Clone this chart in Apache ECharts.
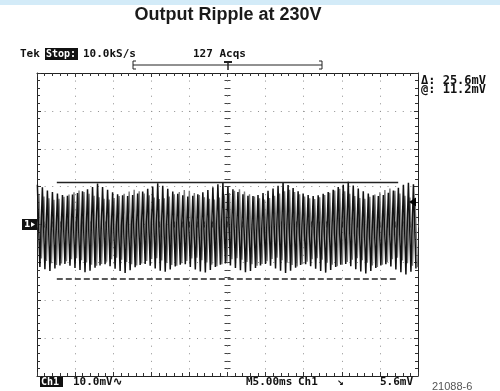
<!DOCTYPE html>
<html><head><meta charset="utf-8">
<script src="https://cdn.jsdelivr.net/npm/echarts@6/dist/echarts.min.js"></script>
<style>html,body{margin:0;padding:0;background:#fff}#c{width:500px;height:391px}</style>
</head><body><div id="c"></div>
<script>
// ---- Data read from the scope capture (mV, 5 ms/div, 10 mV/div) ----
const timeRangeMs = [0, 50];
const voltRangeMv = [-40, 40];
const cyclePeriodMs = 0.658;      // ripple period read from stripe spacing
const blackStartMs = 0.05;
const grayStartMs = 0.25;
const blackPeaks = [10.5,9.8,9.0,8.6,8.2,7.8,7.6,7.9,8.3,8.8,9.3,9.9,10.8,
  9.9,9.2,8.5,8.0,7.7,7.5,7.8,8.2,8.7,9.4,10.0,10.9,10.2,
  9.4,8.7,8.1,7.7,7.4,7.6,8.0,8.5,9.1,9.8,10.6,11.0,10.0,
  9.3,8.6,8.0,7.6,7.5,7.8,8.3,8.9,9.5,10.2,11.2,10.4,9.6,
  8.8,8.2,7.8,7.5,7.7,8.1,8.6,9.2,9.9,10.5,11.3,10.3,9.5,
  8.8,8.2,7.7,7.5,7.8,8.4,9.0,9.7,10.5,11.0,10.6];
const blackTroughs = [-11.2,-11.8,-12.3,-11.6,-10.8,-10.4,-10.9,-11.5,-12.0,-12.6,-12.2,-11.4,-10.8,
  -10.5,-11.0,-11.7,-12.3,-12.8,-12.1,-11.3,-10.7,-10.4,-10.9,-11.6,-12.2,-12.5,
  -11.9,-11.1,-10.6,-10.5,-11.2,-11.9,-12.4,-12.7,-12.0,-11.2,-10.6,-10.3,-10.8,
  -11.5,-12.1,-12.6,-12.3,-11.5,-10.8,-10.4,-10.9,-11.6,-12.2,-12.8,-12.2,-11.4,
  -10.7,-10.5,-11.0,-11.7,-12.3,-12.7,-12.0,-11.2,-10.6,-10.4,-11.0,-11.8,-12.4,
  -12.9,-12.3,-11.5,-10.8,-10.5,-11.1,-11.9,-12.6,-13.2,-12.5,-11.6];
const grayPeaks = [8.0,7.4,6.9,6.5,6.8,7.3,7.9,8.5,9.0,8.6,8.1,7.6,7.2,
  6.8,6.6,7.0,7.5,8.1,8.7,9.2,8.8,8.2,7.7,7.1,6.7,6.9,
  7.4,8.0,8.6,9.1,8.9,8.3,7.8,7.2,6.8,6.6,7.1,7.7,8.3,
  8.9,9.3,8.7,8.0,7.4,6.9,6.6,7.0,7.6,8.2,8.8,9.2,8.6,
  8.0,7.4,6.9,6.7,7.2,7.8,8.4,9.0,9.4,8.8,8.1,7.5,7.0,
  6.8,7.3,7.9,8.5,9.1,9.5,8.9,8.2,7.6,7.1,6.9];
const grayTroughs = [-9.0,-9.6,-10.2,-10.7,-10.3,-9.7,-9.2,-8.9,-9.4,-10.0,-10.6,-10.9,-10.4,
  -9.8,-9.2,-8.8,-9.3,-9.9,-10.5,-10.8,-10.3,-9.6,-9.1,-8.9,-9.5,-10.1,
  -10.7,-10.9,-10.2,-9.6,-9.0,-8.8,-9.4,-10.0,-10.6,-11.0,-10.5,-9.8,-9.2,
  -8.9,-9.3,-9.9,-10.5,-10.9,-10.4,-9.7,-9.1,-8.8,-9.4,-10.1,-10.7,-11.1,
  -10.5,-9.8,-9.2,-8.9,-9.3,-10.0,-10.6,-11.0,-10.6,-9.9,-9.3,-8.9,-9.4,
  -10.1,-10.8,-11.2,-10.6,-9.9,-9.2,-8.8,-9.5,-10.2,-10.9,-11.3];
const cursorTopMv = 11.2;
const cursorDeltaMv = 25.6;
const cursorSpanMs = [2.6, 47.4];
const triggerLevelMv = 5.6;

function buildTrace(peaks, troughs, startMs) {
  const out = [];
  for (let i = 0; i < peaks.length; i++) {
    out.push([startMs + i * cyclePeriodMs, peaks[i]]);
    out.push([startMs + (i + 0.5) * cyclePeriodMs, troughs[i]]);
  }
  return out;
}

const GL = 37, GT = 73, GW = 381, GH = 303;
const chart = echarts.init(document.getElementById('c'), null, {renderer: 'canvas'});

function ax(extra) {
  return Object.assign({
    gridIndex: 0,
    axisLine: {show: true, onZero: false, lineStyle: {color: '#222', width: 1}},
    axisTick: {show: true, inside: true, length: 4, lineStyle: {color: '#333'}},
    minorTick: {show: true, splitNumber: 5, length: 3, lineStyle: {color: '#333'}},
    axisLabel: {show: false},
    splitLine: {show: false},
    minorSplitLine: {show: false}
  }, extra);
}
const xBase = {type: 'value', min: timeRangeMs[0], max: timeRangeMs[1], interval: 5};
const yBase = {type: 'value', min: voltRangeMv[0], max: voltRangeMv[1], interval: 10};
const centerTick = {show: true, inside: true, length: 3, lineStyle: {color: '#444'}};
const centerTickOut = {show: true, inside: false, length: 3, lineStyle: {color: '#444'}};
const centerMinor = {show: true, splitNumber: 5, length: 3, lineStyle: {color: '#444'}};

const txt = (x, y, s, o) => ({type: 'text', x, y, z: 100, style: Object.assign({text: s, fill: '#111',
  font: 'bold 11px "DejaVu Sans Mono"', verticalAlign: 'middle'}, o || {})});

const option = {
  animation: false,
  backgroundColor: '#fff',
  grid: {left: GL, top: GT, width: GW, height: GH, show: false},
  xAxis: [
    ax(Object.assign({}, xBase, {position: 'bottom',
      splitLine: {show: true, lineStyle: {color: '#8f8f8f', width: 1, type: [1, 6.575]}}})),
    ax(Object.assign({}, xBase, {position: 'top'})),
    ax(Object.assign({}, xBase, {position: 'bottom', offset: -GH / 2, axisLine: {show: false, onZero: false}, axisTick: centerTick, minorTick: centerMinor})),
    ax(Object.assign({}, xBase, {position: 'bottom', offset: -GH / 2, axisLine: {show: false, onZero: false}, axisTick: centerTickOut, minorTick: centerMinor}))
  ],
  yAxis: [
    ax(Object.assign({}, yBase, {position: 'left',
      splitLine: {show: true, lineStyle: {color: '#8f8f8f', width: 1, type: [1, 6.62]}}})),
    ax(Object.assign({}, yBase, {position: 'right'})),
    ax(Object.assign({}, yBase, {position: 'left', offset: -GW / 2, axisLine: {show: false, onZero: false}, axisTick: centerTick, minorTick: centerMinor})),
    ax(Object.assign({}, yBase, {position: 'left', offset: -GW / 2, axisLine: {show: false, onZero: false}, axisTick: centerTickOut, minorTick: centerMinor}))
  ],
  series: [
    {type: 'line', name: 'acq2', xAxisIndex: 0, yAxisIndex: 0, showSymbol: false, symbol: 'none',
      data: buildTrace(grayPeaks, grayTroughs, grayStartMs), clip: true,
      lineStyle: {color: '#7a7a7a', width: 1.4}, z: 3},
    {type: 'line', name: 'Ch1', xAxisIndex: 0, yAxisIndex: 0, showSymbol: false, symbol: 'none',
      data: buildTrace(blackPeaks, blackTroughs, blackStartMs), clip: true,
      lineStyle: {color: '#111', width: 1.5}, z: 4,
      markLine: {silent: true, symbol: 'none', label: {show: false},
        data: [
          [{coord: [cursorSpanMs[0], cursorTopMv], lineStyle: {type: 'solid', color: '#222', width: 1.3}},
           {coord: [cursorSpanMs[1], cursorTopMv]}],
          [{coord: [cursorSpanMs[0], cursorTopMv - cursorDeltaMv], lineStyle: {type: [6, 3], color: '#222', width: 1.5}},
           {coord: [cursorSpanMs[1], cursorTopMv - cursorDeltaMv]}]
        ]}}
  ],
  graphic: [
    {type: 'rect', shape: {x: 0, y: 0, width: 500, height: 5}, style: {fill: '#d3ebf8'}},
    {type: 'text', x: 228, y: 15, style: {text: 'Output Ripple at 230V', fill: '#1a1a1a',
      font: 'bold 18px "Liberation Sans", Arial', align: 'center', verticalAlign: 'middle'}},
    txt(20, 54, 'Tek'),
    {type: 'rect', shape: {x: 45, y: 48, width: 33, height: 12}, style: {fill: '#111'}},
    txt(46, 54, 'Stop:', {fill: '#fff', font: 'bold 10px "DejaVu Sans Mono"'}),
    txt(83, 54, '10.0kS/s'),
    txt(193, 54, '127 Acqs'),
    {type: 'polyline', shape: {points: [[136, 61], [133, 61], [133, 69], [136, 69]]}, style: {stroke: '#222', lineWidth: 1, fill: null}},
    {type: 'line', shape: {x1: 133, y1: 65, x2: 322, y2: 65}, style: {stroke: '#222', lineWidth: 1}},
    {type: 'polyline', shape: {points: [[319, 61], [322, 61], [322, 69], [319, 69]]}, style: {stroke: '#222', lineWidth: 1, fill: null}},
    {type: 'line', shape: {x1: 224, y1: 62, x2: 232, y2: 62}, style: {stroke: '#222', lineWidth: 2}},
    {type: 'line', shape: {x1: 228, y1: 62, x2: 228, y2: 70}, style: {stroke: '#222', lineWidth: 1.5}},
    txt(421, 81, 'Δ: 25.6mV', {font: 'bold 12px "DejaVu Sans Mono"'}),
    txt(421, 90, '@: 11.2mV', {font: 'bold 12px "DejaVu Sans Mono"'}),
    {type: 'rect', z: 100, shape: {x: 22, y: 219, width: 15, height: 11}, style: {fill: '#111'}},
    txt(24, 224.5, '1', {fill: '#fff', font: 'bold 9px "DejaVu Sans"'}),
    {type: 'polygon', z: 101, shape: {points: [[31, 222], [35, 224.5], [31, 227]]}, style: {fill: '#fff'}},
    {type: 'polygon', z: 100, shape: {points: [[409, 202], [416, 197.5], [416, 206.5]]}, style: {fill: '#000'}},
    {type: 'rect', shape: {x: 40, y: 377, width: 23, height: 10}, style: {fill: '#111'}},
    txt(41, 382, 'Ch1', {fill: '#fff', font: 'bold 10px "DejaVu Sans Mono"'}),
    txt(73, 382, '10.0mV∿'),
    txt(246, 382, 'M5.00ms'),
    txt(298, 382, 'Ch1'),
    txt(337, 382, '↘'),
    txt(413, 382, '5.6mV', {align: 'right'}),
    txt(432, 387, '21088-6', {fill: '#555', font: '11px "Liberation Sans", Arial'})
  ]
};
chart.setOption(option);
</script></body></html>
